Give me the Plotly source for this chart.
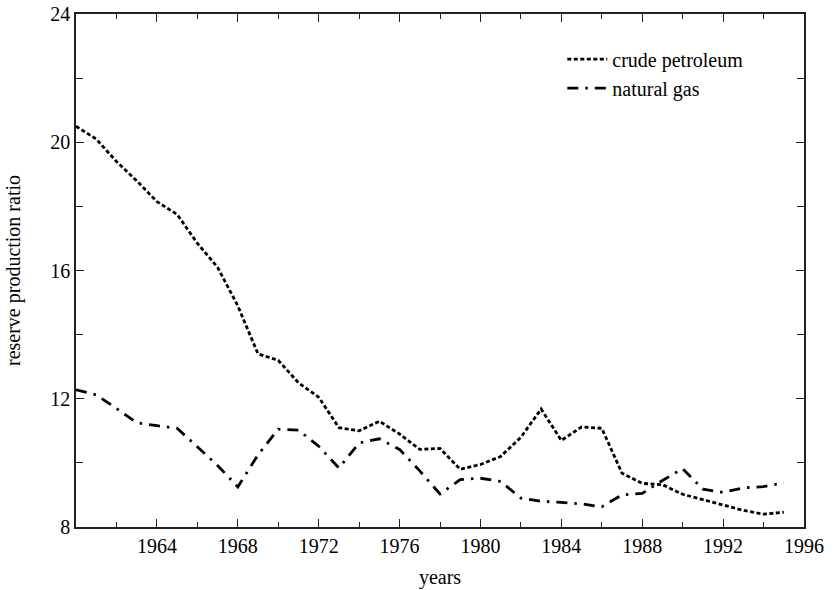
import plotly.graph_objects as go

years = list(range(1960, 1996))
crude_petroleum = [20.5, 20.1, 19.4, 18.8, 18.15, 17.75, 16.85, 16.1, 14.9, 13.4,
                   13.2, 12.5, 12.05, 11.1, 11.0, 11.3, 10.9, 10.42, 10.45, 9.8,
                   9.95, 10.2, 10.8, 11.68, 10.7, 11.12, 11.08, 9.68, 9.36, 9.32,
                   9.02, 8.85, 8.7, 8.52, 8.4, 8.46]
natural_gas = [12.28, 12.12, 11.7, 11.25, 11.16, 11.08, 10.5, 9.92, 9.25, 10.25,
               11.05, 11.02, 10.52, 9.84, 10.62, 10.75, 10.42, 9.75, 9.03, 9.48,
               9.52, 9.42, 8.9, 8.8, 8.77, 8.72, 8.63, 9.0, 9.05, 9.45,
               9.82, 9.18, 9.08, 9.22, 9.26, 9.38]

x_ticks = [1964, 1968, 1972, 1976, 1980, 1984, 1988, 1992, 1996]
y_ticks = [8, 12, 16, 20, 24]

font_family = "Liberation Serif, DejaVu Serif, serif"
fs = 20

fig = go.Figure()
fig.add_trace(go.Scatter(x=years, y=crude_petroleum, mode="lines", name="crude petroleum",
                         line=dict(color="black", width=2.8, dash="4px,2.5px")))
fig.add_trace(go.Scatter(x=years, y=natural_gas, mode="lines", name="natural gas",
                         line=dict(color="black", width=2.8, dash="11px,7px,2.5px,7px")))

axis_common = dict(showgrid=False, zeroline=False, showline=True, linecolor="#222",
                   linewidth=1.5, mirror="ticks", ticks="inside", tickcolor="#222",
                   tickwidth=1.2, automargin=False,
                   tickfont=dict(size=fs, color="black", family=font_family))

fig.update_xaxes(range=[1960, 1996], tickvals=x_ticks, ticklen=8,
                 minor=dict(tickvals=list(range(1962, 1996, 4)), ticklen=5, ticks="inside",
                            tickcolor="#222", tickwidth=1.2),
                 title=dict(text="years", font=dict(size=fs, color="black", family=font_family),
                            standoff=14),
                 **axis_common)
fig.update_yaxes(range=[8, 24], tickvals=y_ticks, ticklen=8,
                 minor=dict(tickvals=[10, 14, 18, 22], ticklen=7, ticks="inside",
                            tickcolor="#222", tickwidth=1.2),
                 title=dict(text="reserve production ratio",
                            font=dict(size=fs, color="black", family=font_family), standoff=24),
                 **axis_common)

fig.update_layout(
    width=834, height=590,
    margin=dict(l=76, r=30, t=14, b=63, autoexpand=False),
    plot_bgcolor="white", paper_bgcolor="white",
    font=dict(family=font_family, size=fs, color="black"),
    legend=dict(x=0.668, y=0.95, xanchor="left", yanchor="top", bgcolor="rgba(0,0,0,0)",
                font=dict(size=fs, family=font_family), tracegroupgap=0, itemwidth=40),
    showlegend=True,
)

fig.write_html("out.html", config={"displayModeBar": False},
               post_script="document.body.style.margin='0';document.body.style.overflow='hidden';")
